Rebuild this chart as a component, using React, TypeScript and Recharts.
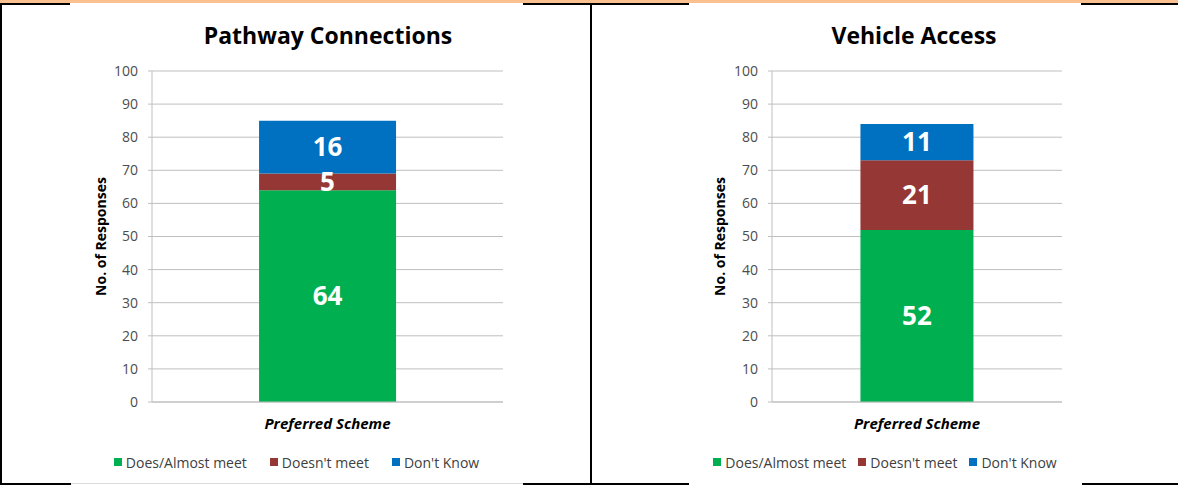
import { BarChart, Bar, XAxis, YAxis, CartesianGrid, Legend, LabelList } from 'recharts'

const categories = ['Preferred Scheme']
const seriesNames = ['Does/Almost meet', "Doesn't meet", "Don't Know"]
const seriesKeys = ['meet', 'notMeet', 'dontKnow']

const pathwayMeet = [64]
const pathwayNotMeet = [5]
const pathwayDontKnow = [16]

const vehicleMeet = [52]
const vehicleNotMeet = [21]
const vehicleDontKnow = [11]

const yTicks = [0, 10, 20, 30, 40, 50, 60, 70, 80, 90, 100]

const COLORS = ['#00B050', '#953735', '#0070C0']
const FONT = '"Open Sans", sans-serif'
const GRID = '#BFBFBF'

const buildRows = (meet: number[], notMeet: number[], dontKnow: number[]) =>
  categories.map((name, i) => ({ name, meet: meet[i], notMeet: notMeet[i], dontKnow: dontKnow[i] }))

const pathwayData = buildRows(pathwayMeet, pathwayNotMeet, pathwayDontKnow)
const vehicleData = buildRows(vehicleMeet, vehicleNotMeet, vehicleDontKnow)

const renderLegend = (gap: number) => (props: any) => {
  const items = props.payload || []
  return (
    <div
      style={{
        display: 'flex',
        justifyContent: 'center',
        alignItems: 'center',
        height: 20,
        fontFamily: FONT,
        fontSize: 14,
        color: '#404040',
        whiteSpace: 'nowrap',
      }}>
      {items.map((entry: any, i: number) => (
        <span key={entry.value} style={{ display: 'flex', alignItems: 'center', marginLeft: i ? gap : 0 }}>
          <span style={{ width: 8, height: 8, background: entry.color, marginRight: 4 }} />
          {entry.value}
        </span>
      ))}
    </div>
  )
}

interface ChartProps {
  data: { name: string; meet: number; notMeet: number; dontKnow: number }[]
  width: number
  axisWidth: number
  right: number
  legendGap: number
}

const StackedChart = ({ data, width, axisWidth, right, legendGap }: ChartProps) => (
  <BarChart
    width={width}
    height={480}
    data={data}
    margin={{ top: 67, right, left: 0, bottom: 32 }}
    barCategoryGap="30.5%">
    <CartesianGrid vertical={false} stroke={GRID} />
    <XAxis
      dataKey="name"
      height={30}
      axisLine={{ stroke: GRID }}
      tickLine={false}
      tickMargin={10}
      tick={{ fill: '#000', fontSize: 15, fontWeight: 700, fontStyle: 'italic', fontFamily: FONT }}
    />
    <YAxis
      width={axisWidth}
      domain={[0, 100]}
      ticks={yTicks}
      interval={0}
      axisLine={{ stroke: GRID }}
      tickLine={{ stroke: GRID }}
      tickSize={4}
      tickMargin={10}
      tick={{ fill: '#4D4D4D', fontSize: 14, fontFamily: FONT }}
      label={{
        value: 'No. of Responses',
        angle: -90,
        position: 'center',
        dx: -10,
        fontSize: 14,
        fontWeight: 700,
        fill: '#000',
        fontFamily: FONT,
      }}
    />
    <Legend
      content={renderLegend(legendGap)}
      wrapperStyle={{ left: 0, width, top: 448, bottom: 'auto' }}
    />
    {seriesKeys.map((k, i) => (
      <Bar key={k} dataKey={k} name={seriesNames[i]} stackId="a" fill={COLORS[i]} isAnimationActive={false}>
        <LabelList dataKey={k} position="center" fill="#fff" fontSize={26} fontWeight={700} fontFamily={FONT} />
      </Bar>
    ))}
  </BarChart>
)

export default function App() {
  return (
    <div style={{ position: 'absolute', left: 0, top: 0, width: 1178, height: 485, background: '#fff' }}>
      <div style={{ position: 'absolute', left: 70, top: 4 }}>
        <StackedChart data={pathwayData} width={453} axisWidth={82} right={20} legendGap={23} />
      </div>
      <div style={{ position: 'absolute', left: 689, top: 4 }}>
        <StackedChart data={vehicleData} width={392} axisWidth={83} right={19} legendGap={12} />
      </div>
      <svg
        width={1178}
        height={485}
        style={{ position: 'absolute', left: 0, top: 0, pointerEvents: 'none' }}>
        <rect x={0} y={0} width={1178} height={3} fill="#FAC090" />
        <rect x={0} y={3} width={70} height={2} fill="#000" />
        <rect x={523} y={3} width={166} height={2} fill="#000" />
        <rect x={1081} y={3} width={97} height={2} fill="#000" />
        <rect x={0} y={3} width={2} height={482} fill="#000" />
        <rect x={590} y={3} width={2} height={482} fill="#000" />
        <rect x={0} y={483} width={71} height={2} fill="#000" />
        <rect x={71} y={483} width={452} height={1} fill="#D9D9D9" />
        <rect x={523} y={483} width={166} height={2} fill="#000" />
        <rect x={1082} y={483} width={96} height={2} fill="#000" />
        <text x={328} y={44} textAnchor="middle" fontFamily={FONT} fontWeight={700} fontSize={23} fill="#000">
          Pathway Connections
        </text>
        <text x={914} y={44} textAnchor="middle" fontFamily={FONT} fontWeight={700} fontSize={23} fill="#000">
          Vehicle Access
        </text>
      </svg>
    </div>
  )
}
